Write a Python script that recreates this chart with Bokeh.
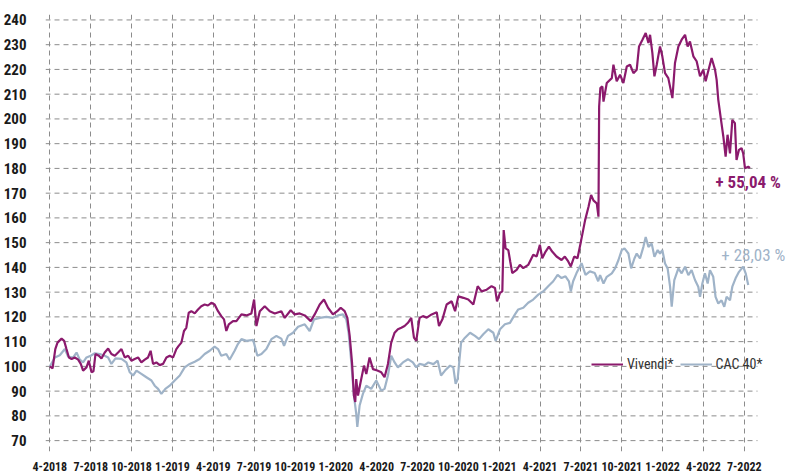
from bokeh.plotting import figure
from bokeh.models import Range1d, FixedTicker, Legend, LegendItem, Label
from bokeh.embed import file_html
from bokeh.resources import INLINE

# months since April 2018 -> index value (base 100)
vivendi_points = [
    (0.0,100.0),(0.2,99.2),(0.4,107.0),(0.56,109.6),(0.86,111.2),(1.05,110.3),(1.22,107.0),(1.4,103.6),
    (1.6,103.0),(1.83,103.6),(2.08,102.7),(2.27,101.0),(2.44,98.3),(2.69,99.6),(2.86,102.3),(3.06,97.6),
    (3.2,98.0),(3.35,105.0),(3.6,104.3),(3.79,103.2),(4.03,105.6),(4.28,107.2),(4.52,105.0),(4.77,104.3),
    (5.01,105.6),(5.26,107.0),(5.5,103.6),(5.75,104.3),(5.99,102.3),(6.23,103.0),(6.48,103.6),(6.72,101.6),
    (6.97,102.7),(7.21,103.6),(7.4,106.3),(7.58,101.0),(7.82,101.6),(8.07,100.5),(8.31,101.0),(8.56,103.6),
    (8.8,104.3),(9.05,103.6),(9.29,107.0),(9.46,108.3),(9.66,109.6),(9.85,114.3),(10.02,115.6),(10.2,121.7),
    (10.39,122.3),(10.64,121.4),(10.88,123.0),(11.12,124.3),(11.37,125.0),(11.61,124.6),(11.86,125.7),
    (12.1,125.0),(12.35,122.3),(12.59,120.3),(12.79,119.0),(12.96,114.3),(13.14,117.0),(13.45,118.3),
    (13.7,118.3),(14.07,121.0),(14.44,120.6),(14.8,121.4),(15.0,127.0),(15.17,116.3),(15.42,122.3),
    (15.78,124.3),(16.15,122.3),(16.52,121.4),(17.0,122.3),(17.25,119.6),(17.69,122.7),(17.98,121.0),
    (18.35,121.4),(18.72,120.6),(19.16,118.3),(19.45,121.0),(19.82,125.0),(20.13,127.0),(20.43,123.7),
    (20.79,121.0),(21.11,122.3),(21.36,123.7),(21.65,122.3),(21.85,119.6),(22.02,112.3),(22.19,101.6),
    (22.33,88.2),(22.43,85.6),(22.5,94.9),(22.63,88.2),(22.82,93.6),(23.07,100.3),(23.24,96.9),(23.48,103.6),
    (23.73,98.9),(24.05,98.3),(24.34,97.6),(24.58,95.6),(24.83,101.0),(25.07,109.6),(25.32,113.6),
    (25.56,115.0),(25.81,115.6),(26.05,116.3),(26.3,117.6),(26.54,119.6),(26.74,111.6),(26.91,110.3),
    (27.15,119.6),(27.4,120.3),(27.68,119.7),(28.04,121.0),(28.41,121.9),(28.58,116.3),(28.83,119.0),
    (29.14,125.0),(29.51,126.3),(29.76,122.3),(30.0,128.3),(30.37,127.7),(30.73,127.0),(31.1,125.0),
    (31.42,132.4),(31.71,130.3),(32.08,131.0),(32.44,132.4),(32.69,131.7),(32.84,126.3),(33.06,129.7),
    (33.23,130.3),(33.33,155.1),(33.47,147.7),(33.67,147.0),(33.81,142.4),(33.96,137.7),(34.28,139.0),
    (34.52,141.0),(34.77,139.7),(35.13,141.0),(35.5,145.1),(35.75,144.4),(35.99,149.1),(36.16,143.7),
    (36.41,146.4),(36.65,148.4),(36.89,146.4),(37.21,144.4),(37.58,143.0),(37.82,144.4),(38.07,142.4),
    (38.26,140.4),(38.51,144.4),(38.75,143.7),(39.0,150.4),(39.31,159.1),(39.56,164.5),(39.75,169.3),
    (39.92,167.1),(40.17,165.8),(40.29,160.5),(40.34,205.0),(40.43,212.5),(40.58,213.1),(40.66,207.0),
    (40.9,214.5),(41.27,216.5),(41.39,221.9),(41.63,215.2),(41.88,217.9),(42.12,214.5),(42.37,221.2),
    (42.61,221.9),(42.86,218.5),(43.1,219.9),(43.27,229.3),(43.52,232.0),(43.76,234.7),(43.96,230.7),
    (44.08,234.0),(44.25,226.6),(44.4,217.2),(44.57,221.9),(44.81,229.3),(44.98,225.3),(45.18,218.5),
    (45.42,216.5),(45.72,208.4),(45.91,222.6),(46.16,229.3),(46.4,232.0),(46.65,234.0),(46.84,229.3),
    (47.01,231.3),(47.26,225.3),(47.5,223.3),(47.75,217.2),(47.99,219.9),(48.16,215.2),(48.41,220.6),
    (48.6,224.6),(48.85,219.9),(48.97,215.8),(49.09,207.7),(49.29,199.6),(49.46,192.9),(49.63,184.8),
    (49.77,193.6),(49.95,186.1),(50.12,199.6),(50.31,198.3),(50.43,183.4),(50.61,187.5),(50.8,188.2),
    (50.92,186.1),(51.05,180.1),(51.29,180.7),(51.41,180.1),
]

cac40_points = [
    (0.0,100.0),(0.37,103.6),(0.73,104.5),(1.1,107.0),(1.34,104.0),(1.71,103.6),(1.96,105.6),(2.2,102.7),
    (2.44,101.6),(2.69,103.6),(3.0,104.3),(3.3,105.3),(3.67,105.0),(4.03,104.3),(4.28,103.6),(4.52,101.0),
    (4.82,103.2),(5.26,103.0),(5.62,101.6),(5.87,97.6),(6.11,96.3),(6.36,98.3),(6.72,97.0),(7.09,95.6),
    (7.46,94.3),(7.7,92.2),(7.95,90.9),(8.19,88.9),(8.48,90.9),(8.8,92.2),(9.17,94.3),(9.54,96.3),
    (9.9,99.6),(10.27,101.0),(10.64,101.9),(11.0,103.0),(11.37,105.0),(11.74,106.3),(12.1,108.0),
    (12.35,107.0),(12.59,104.3),(12.96,105.0),(13.2,102.7),(13.57,106.3),(13.81,109.0),(14.07,111.0),
    (14.44,110.3),(14.93,110.7),(15.24,104.3),(15.54,105.0),(15.9,107.0),(16.27,111.0),(16.64,112.3),
    (17.0,111.2),(17.2,108.3),(17.49,112.3),(17.86,113.6),(18.23,116.0),(18.72,117.0),(19.08,114.3),
    (19.4,119.0),(19.82,119.6),(20.31,120.0),(20.79,119.6),(21.16,120.6),(21.53,121.0),(21.77,119.0),
    (21.94,113.6),(22.14,101.6),(22.33,88.2),(22.5,80.9),(22.58,75.5),(22.75,84.2),(22.99,88.9),
    (23.24,92.2),(23.6,90.9),(23.97,94.3),(24.34,90.2),(24.58,90.9),(24.83,96.3),(25.07,104.3),
    (25.32,101.6),(25.56,99.6),(25.93,101.6),(26.3,102.9),(26.66,101.6),(26.91,99.6),(27.15,101.0),
    (27.52,100.5),(27.8,101.6),(28.17,100.9),(28.48,102.3),(28.73,96.3),(29.02,98.3),(29.39,100.3),
    (29.63,99.6),(29.8,92.9),(29.95,94.9),(30.2,109.6),(30.49,111.6),(30.86,113.6),(31.22,112.3),
    (31.52,111.0),(31.83,113.0),(32.2,115.0),(32.57,113.6),(32.74,110.3),(33.06,115.0),(33.42,117.0),
    (33.79,117.6),(34.16,121.0),(34.4,123.0),(34.77,123.7),(35.13,125.7),(35.5,127.0),(35.87,129.0),
    (36.23,130.3),(36.6,132.4),(36.97,134.4),(37.29,137.0),(37.58,135.7),(37.87,136.4),(38.12,134.4),
    (38.26,130.3),(38.43,134.4),(38.68,137.7),(39.05,141.7),(39.34,137.0),(39.66,138.4),(40.02,137.7),
    (40.27,134.4),(40.41,136.9),(40.66,133.5),(40.9,136.2),(41.27,137.6),(41.51,139.6),(41.76,143.0),
    (42.0,147.0),(42.2,147.7),(42.49,145.6),(42.69,139.6),(42.93,143.6),(43.1,145.6),(43.34,143.6),
    (43.59,148.3),(43.76,152.3),(43.96,148.3),(44.2,149.6),(44.4,144.3),(44.64,147.0),(44.81,145.6),
    (44.98,147.0),(45.18,141.6),(45.37,139.6),(45.55,132.2),(45.67,124.1),(45.86,134.9),(46.16,139.6),
    (46.4,137.6),(46.65,140.3),(46.89,136.9),(47.13,138.9),(47.38,134.9),(47.62,132.2),(47.75,128.1),
    (47.92,133.5),(48.11,137.6),(48.31,133.5),(48.48,138.9),(48.72,136.2),(48.89,128.1),(49.09,125.4),
    (49.33,126.7),(49.53,124.1),(49.7,128.1),(49.95,126.7),(50.12,132.2),(50.36,135.6),(50.61,138.2),
    (50.92,140.3),(51.1,137.6),(51.29,132.9),
]

x_ticks = [0, 3, 6, 9, 12, 15, 18, 21, 24, 27, 30, 33, 36, 39, 42, 45, 48, 51]
x_labels = ["4-2018", "7-2018", "10-2018", "1-2019", "4-2019", "7-2019", "10-2019", "1-2020",
            "4-2020", "7-2020", "10-2020", "1-2021", "4-2021", "7-2021", "10-2021", "1-2022",
            "4-2022", "7-2022"]
y_ticks = list(range(70, 250, 10))

series_names = ["Vivendi*", "CAC 40*"]
perf_labels = ["+ 55,04 %", "+ 28,03 %"]

VIV_COLOR = "#8b1a6d"
CAC_COLOR = "#9fb3c8"
GRID_COLOR = "#8c8c8c"
FONT = "Roboto Condensed, Liberation Sans Narrow, DejaVu Sans Condensed, Roboto, sans-serif"

X_START, X_GRID_END, X_END = -0.32, 51.97, 54.1

p = figure(width=786, height=473, output_backend="svg", toolbar_location=None,
           x_range=Range1d(X_START, X_END), y_range=Range1d(65.6, 242.2),
           min_border_left=44, min_border_right=0, min_border_top=14, min_border_bottom=19)
p.outline_line_color = None
p.background_fill_color = "white"
p.border_fill_color = "white"

for ax in (p.xaxis[0], p.yaxis[0]):
    ax.axis_line_color = None
    ax.major_tick_line_color = None
    ax.minor_tick_line_color = None
    ax.major_label_text_font = FONT
    ax.major_label_text_color = "#1a1a1a"

p.xaxis.ticker = FixedTicker(ticks=x_ticks)
p.xaxis.major_label_overrides = {t: l for t, l in zip(x_ticks, x_labels)}
p.xaxis.major_label_text_font_size = "12px"
p.xaxis.major_label_text_font_style = "bold"
p.xaxis.major_label_standoff = 4

p.yaxis.ticker = FixedTicker(ticks=y_ticks)
p.yaxis.major_label_text_font_size = "15px"
p.yaxis.major_label_text_font_style = "bold"
p.yaxis.major_label_standoff = 13

# vertical grid from the axis; horizontal grid drawn only up to the last column
p.xgrid.grid_line_color = GRID_COLOR
p.xgrid.grid_line_dash = "5 4"
p.xgrid.grid_line_width = 1
p.ygrid.grid_line_color = None
p.segment(x0=[X_START] * len(y_ticks), y0=y_ticks, x1=[X_GRID_END] * len(y_ticks), y1=y_ticks,
          line_color=GRID_COLOR, line_dash="5 4", line_width=1)

ct = [a for a, b in cac40_points]
cv = [b for a, b in cac40_points]
vt = [a for a, b in vivendi_points]
vv = [b for a, b in vivendi_points]

r_cac = p.line(ct, cv, line_color=CAC_COLOR, line_width=2.2)
r_viv = p.line(vt, vv, line_color=VIV_COLOR, line_width=2.2)

legend = Legend(items=[LegendItem(label=series_names[0], renderers=[r_viv]),
                       LegendItem(label=series_names[1], renderers=[r_cac])],
                orientation="horizontal", location=(546, 79),
                padding=0, margin=0, spacing=6, glyph_width=32, glyph_height=16,
                label_standoff=4, label_text_font=FONT, label_text_font_size="14px",
                label_text_color="#333333", background_fill_alpha=0, border_line_alpha=0)
p.add_layout(legend)

p.add_layout(Label(x=vt[-1], y=vv[-1], x_offset=31, y_offset=-14, text=perf_labels[0],
                   text_align="right", text_baseline="middle", text_font=FONT,
                   text_font_size="17px", text_font_style="bold", text_color=VIV_COLOR))
p.add_layout(Label(x=ct[-1], y=cv[-1], x_offset=37, y_offset=30, text=perf_labels[1],
                   text_align="right", text_baseline="middle", text_font=FONT,
                   text_font_size="17px", text_color=CAC_COLOR))

open("out.html", "w").write(file_html(p, INLINE))
